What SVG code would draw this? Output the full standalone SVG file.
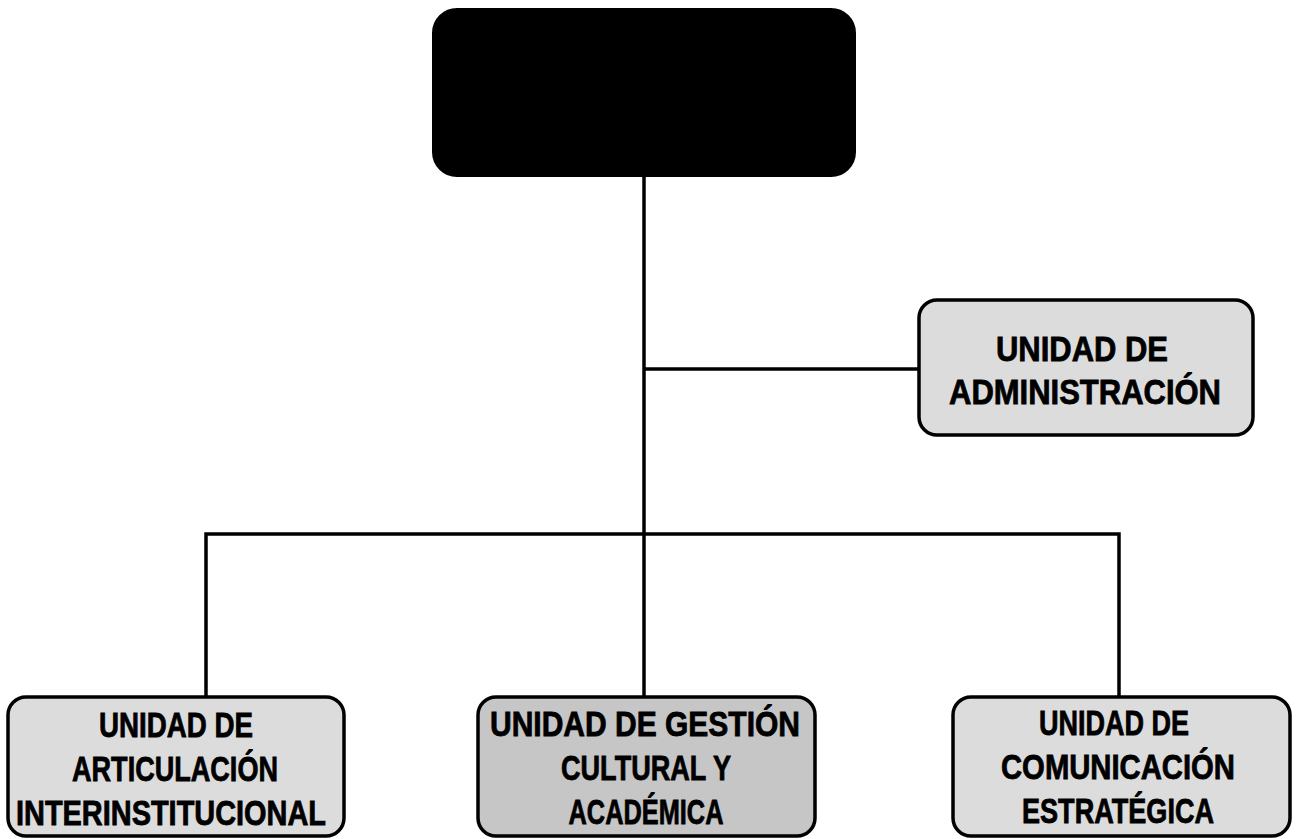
<svg xmlns="http://www.w3.org/2000/svg" width="1298" height="839" viewBox="0 0 1298 839">
<style>
.box{stroke:#000;stroke-width:3.5}
.lt{fill:#dcdcdc}
.dk{fill:#c6c6c6}
.conn{stroke:#000;stroke-width:3.5;fill:none}
text{font-family:"Liberation Sans",Arial,sans-serif;font-weight:bold;font-size:35px;fill:#000;stroke:#000;stroke-width:0.8;text-anchor:middle}
</style>
<rect width="1298" height="839" fill="#fff"/>
<g id="connectors">
<line class="conn" x1="644" y1="176" x2="644" y2="697"/>
<line class="conn" x1="644" y1="369" x2="919" y2="369"/>
<polyline class="conn" points="206,697 206,534 1119,534 1119,697"/>
</g>
<g id="top">
<rect x="433" y="9" width="422" height="167" rx="24" fill="#000" stroke="#000" stroke-width="2"/>
</g>
<g id="admin">
<rect class="box lt" x="919" y="300" width="334" height="135" rx="18"/>
<text x="1082" y="361" textLength="172" lengthAdjust="spacingAndGlyphs">UNIDAD DE</text>
<text x="1085" y="404" textLength="272" lengthAdjust="spacingAndGlyphs">ADMINISTRACIÓN</text>
</g>
<g id="articulacion">
<rect class="box lt" x="8" y="697" width="336" height="139" rx="18"/>
<text x="176" y="737" textLength="154" lengthAdjust="spacingAndGlyphs">UNIDAD DE</text>
<text x="175" y="781" textLength="206" lengthAdjust="spacingAndGlyphs">ARTICULACIÓN</text>
<text x="171" y="825" textLength="310" lengthAdjust="spacingAndGlyphs">INTERINSTITUCIONAL</text>
</g>
<g id="gestion">
<rect class="box dk" x="478" y="697" width="337" height="139" rx="18"/>
<text x="645" y="736" textLength="310" lengthAdjust="spacingAndGlyphs">UNIDAD DE GESTIÓN</text>
<text x="646" y="780" textLength="170" lengthAdjust="spacingAndGlyphs">CULTURAL Y</text>
<text x="646" y="824" textLength="155" lengthAdjust="spacingAndGlyphs">ACADÉMICA</text>
</g>
<g id="comunicacion">
<rect class="box lt" x="953" y="697" width="337" height="139" rx="18"/>
<text x="1114" y="735" textLength="150" lengthAdjust="spacingAndGlyphs">UNIDAD DE</text>
<text x="1118" y="779" textLength="234" lengthAdjust="spacingAndGlyphs">COMUNICACIÓN</text>
<text x="1118" y="823" textLength="192" lengthAdjust="spacingAndGlyphs">ESTRATÉGICA</text>
</g>
</svg>
